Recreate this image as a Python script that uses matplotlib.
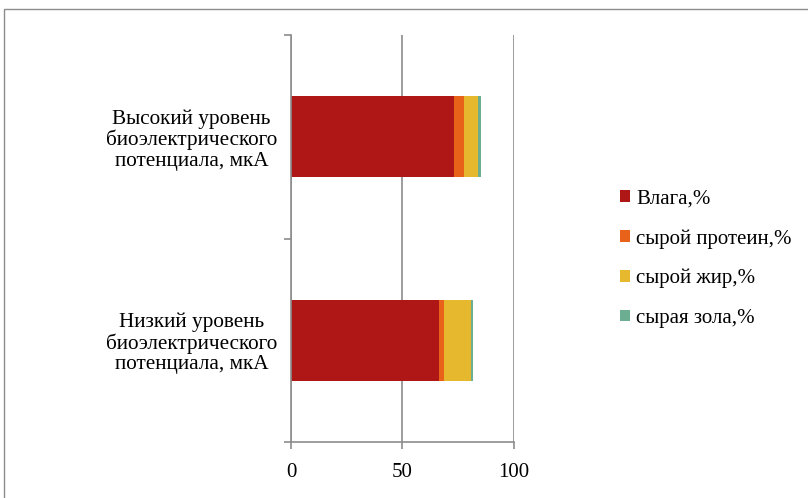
import matplotlib
matplotlib.use("Agg")
import matplotlib.pyplot as plt
from matplotlib.patches import Rectangle

plt.rcParams["font.family"] = ["Liberation Serif", "DejaVu Serif"]

categories = [
    "Низкий уровень\nбиоэлектрического\nпотенциала, мкА",
    "Высокий уровень\nбиоэлектрического\nпотенциала, мкА",
]
series_names = ["Влага,%", "сырой протеин,%", "сырой жир,%", "сырая зола,%"]
moisture = [66.2, 72.9]
protein = [2.5, 4.5]
fat = [12.1, 6.4]
ash = [0.8, 1.2]
x_ticks = [0, 50, 100]

colors = ["#AF1616", "#E9621A", "#E6B82E", "#6BAE92"]
axis_gray = "#8C8C8C"

fig = plt.figure(figsize=(8.08, 4.98), dpi=100)
ax = fig.add_axes([0.3601, 0.1124, 0.2760, 0.8173])

ypos = list(range(len(categories)))
left = [0.0] * len(categories)
for name, vals, col in zip(series_names, [moisture, protein, fat, ash], colors):
    ax.barh(ypos, vals, left=left, height=0.4, color=col, label=name,
            edgecolor="none")
    left = [l + v for l, v in zip(left, vals)]

ax.set_xlim(0, 100)
ax.set_ylim(-0.5, 1.5)
ax.set_xticks(x_ticks)
ax.set_xticklabels([str(t) for t in x_ticks], fontsize=15)
ax.xaxis.grid(True, color=axis_gray, linewidth=1.2)
ax.set_axisbelow(True)

# category boundaries get the tick marks, names sit between them
ax.set_yticks([-0.5, 0.5, 1.5])
ax.set_yticklabels([])
ax.set_yticks(ypos, minor=True)
ax.set_yticklabels(categories, minor=True, fontsize=15.3,
                   multialignment="center", linespacing=1.08)
ax.tick_params(axis="y", which="minor", length=0, pad=10)
ax.tick_params(axis="y", which="major", length=5, width=1.2, color=axis_gray)
ax.tick_params(axis="x", length=5, width=1.2, color=axis_gray, pad=10)

for side in ("top", "right"):
    ax.spines[side].set_visible(False)
for side in ("left", "bottom"):
    ax.spines[side].set_color(axis_gray)
    ax.spines[side].set_linewidth(1.2)

fig.legend(loc="upper left", bbox_to_anchor=(0.757, 0.636), frameon=False,
           fontsize=15, handlelength=0.48, handleheight=0.48,
           handletextpad=0.3, labelspacing=0.98, borderaxespad=0)

# outer chart border
fig.patches.append(Rectangle((4 / 808, -0.05), 1.1, 1 - 9 / 498 + 0.05,
                             transform=fig.transFigure, fill=False,
                             edgecolor=axis_gray, linewidth=1.0))

fig.savefig("out.png", dpi=100)
